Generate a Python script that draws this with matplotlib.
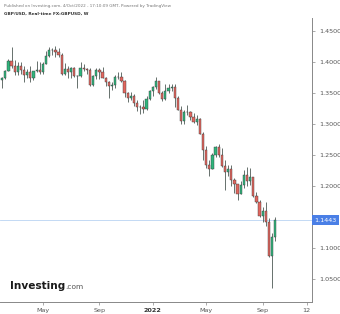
import numpy as np
import matplotlib.pyplot as plt

# GBP/USD weekly candles, first bar = week of 1 Feb 2021, last = week of 3 Oct 2022
opens = [1.3705, 1.3735, 1.3850, 1.4010, 1.3925, 1.3835, 1.3930, 1.3870, 1.3785, 1.3830,
         1.3735, 1.3840, 1.3870, 1.3825, 1.3955, 1.4090, 1.4180, 1.4190, 1.4160, 1.4110,
         1.3800, 1.3880, 1.3825, 1.3890, 1.3760, 1.3760, 1.3890, 1.3880, 1.3865, 1.3620,
         1.3760, 1.3870, 1.3835, 1.3735, 1.3675, 1.3600, 1.3615, 1.3745, 1.3755, 1.3685,
         1.3495, 1.3410, 1.3440, 1.3330, 1.3270, 1.3265, 1.3235, 1.3400, 1.3530, 1.3590,
         1.3680, 1.3485, 1.3395, 1.3530, 1.3565, 1.3590, 1.3410, 1.3225, 1.3035, 1.3180,
         1.3185, 1.3110, 1.3030, 1.3065, 1.2830, 1.2570, 1.2335, 1.2265, 1.2490, 1.2625,
         1.2490, 1.2315, 1.2225, 1.2265, 1.2095, 1.2020, 1.1870, 1.2005, 1.2175, 1.2075,
         1.2140, 1.1830, 1.1735, 1.1510, 1.1590, 1.1410, 1.0855, 1.1165]
highs = [1.3758, 1.3865, 1.4035, 1.4241, 1.4018, 1.3990, 1.4000, 1.3925, 1.3885, 1.3920,
         1.3845, 1.4010, 1.3990, 1.3985, 1.4165, 1.4235, 1.4220, 1.4250, 1.4220, 1.4130,
         1.3975, 1.3930, 1.3910, 1.3910, 1.3785, 1.3985, 1.3960, 1.3890, 1.3890, 1.3780,
         1.3890, 1.3890, 1.3910, 1.3750, 1.3690, 1.3675, 1.3775, 1.3835, 1.3835, 1.3695,
         1.3515, 1.3515, 1.3475, 1.3375, 1.3300, 1.3375, 1.3440, 1.3545, 1.3600, 1.3750,
         1.3685, 1.3530, 1.3630, 1.3645, 1.3645, 1.3645, 1.3440, 1.3280, 1.3215, 1.3300,
         1.3195, 1.3165, 1.3145, 1.3090, 1.2860, 1.2640, 1.2405, 1.2525, 1.2635, 1.2665,
         1.2600, 1.2405, 1.2325, 1.2330, 1.2125, 1.2025, 1.2065, 1.2245, 1.2295, 1.2280,
         1.2145, 1.1900, 1.1760, 1.1650, 1.1740, 1.1480, 1.1235, 1.1495]
lows = [1.3566, 1.3710, 1.3850, 1.3890, 1.3780, 1.3780, 1.3805, 1.3670, 1.3740, 1.3670,
        1.3700, 1.3825, 1.3800, 1.3800, 1.3955, 1.4070, 1.4110, 1.4080, 1.4075, 1.3785,
        1.3785, 1.3735, 1.3730, 1.3755, 1.3570, 1.3755, 1.3840, 1.3800, 1.3600, 1.3600,
        1.3725, 1.3725, 1.3735, 1.3610, 1.3410, 1.3545, 1.3570, 1.3725, 1.3670, 1.3425,
        1.3355, 1.3385, 1.3280, 1.3195, 1.3160, 1.3170, 1.3225, 1.3380, 1.3440, 1.3560,
        1.3480, 1.3360, 1.3380, 1.3490, 1.3530, 1.3270, 1.3210, 1.3000, 1.3000, 1.3140,
        1.3050, 1.3005, 1.2975, 1.2825, 1.2410, 1.2275, 1.2155, 1.2260, 1.2460, 1.2460,
        1.2300, 1.1935, 1.2160, 1.2000, 1.1875, 1.1760, 1.1870, 1.1960, 1.2000, 1.2005,
        1.1820, 1.1715, 1.1500, 1.1405, 1.1350, 1.0840, 1.0350, 1.1110]
closes = [1.3735, 1.3850, 1.4010, 1.3925, 1.3835, 1.3930, 1.3870, 1.3785, 1.3830, 1.3735,
          1.3840, 1.3870, 1.3825, 1.3955, 1.4090, 1.4180, 1.4190, 1.4160, 1.4110, 1.3800,
          1.3880, 1.3825, 1.3890, 1.3760, 1.3760, 1.3890, 1.3880, 1.3865, 1.3620, 1.3760,
          1.3870, 1.3835, 1.3735, 1.3675, 1.3600, 1.3615, 1.3745, 1.3755, 1.3685, 1.3495,
          1.3410, 1.3440, 1.3330, 1.3270, 1.3265, 1.3235, 1.3400, 1.3530, 1.3590, 1.3680,
          1.3485, 1.3395, 1.3530, 1.3565, 1.3590, 1.3410, 1.3225, 1.3035, 1.3180, 1.3185,
          1.3110, 1.3030, 1.3065, 1.2830, 1.2570, 1.2335, 1.2265, 1.2490, 1.2625, 1.2490,
          1.2315, 1.2225, 1.2265, 1.2095, 1.2020, 1.1870, 1.2005, 1.2175, 1.2075, 1.2140,
          1.1830, 1.1735, 1.1510, 1.1590, 1.1410, 1.0855, 1.1165, 1.1443]

last_price = 1.1443
y_ticks = [1.05, 1.10, 1.20, 1.25, 1.30, 1.35, 1.40, 1.45]
# week index of the month labels
x_tick_pos = [13, 31, 48, 65, 83, 97]
x_tick_labels = ["May", "Sep", "2022", "May", "Sep", "12"]

o = np.array(opens)
h = np.array(highs)
l = np.array(lows)
c = np.array(closes)
x = np.arange(len(o))
up = c >= o

green = "#2fb57c"
red = "#e2665e"

fig = plt.figure(figsize=(3.4, 3.14), dpi=100)
ax = fig.add_axes([0.0, 0.0382, 0.9176, 0.9045])

ax.axhline(last_price, color="#b9d3f2", lw=0.6, zorder=1)

ax.vlines(x, l, h, color="#4d5a55", lw=0.6, zorder=2)
colors = np.where(up, green, red)
ax.bar(x, np.maximum(np.abs(c - o), 0.0006), bottom=np.minimum(o, c), width=0.72,
       color=colors, edgecolor="#3a3a3a", linewidth=0.3, zorder=3)

ax.set_xlim(-0.67, 98.7)
ax.set_ylim(1.0121, 1.4702)

ax.yaxis.tick_right()
ax.set_yticks(y_ticks)
ax.set_yticklabels([f"{v:.4f}" for v in y_ticks])
ax.tick_params(axis="y", labelsize=4.6, colors="#888888", labelcolor="#555555",
               length=2.5, width=0.5, pad=2.5)
ax.set_xticks(x_tick_pos)
ax.set_xticklabels(x_tick_labels)
ax.tick_params(axis="x", labelsize=4.6, colors="#888888", labelcolor="#555555",
               length=2.5, width=0.5, pad=1.5)
ax.get_xticklabels()[2].set_fontweight("bold")
ax.get_xticklabels()[2].set_color("#333333")

for s in ["top", "left"]:
    ax.spines[s].set_visible(False)
for s in ["right", "bottom"]:
    ax.spines[s].set_color("#888888")
    ax.spines[s].set_linewidth(0.7)

# current price tag
ax.text(1.008, last_price, f"{last_price:.4f}", transform=ax.get_yaxis_transform(),
        ha="left", va="center", fontsize=4.6, color="white", zorder=5, clip_on=False,
        bbox=dict(boxstyle="square,pad=0.35", fc="#4a7fe6", ec="none"))

fig.text(0.012, 0.988, "Published on Investing.com, 4/Oct/2022 - 17:10:09 GMT, Powered by TradingView",
         fontsize=3.0, color="#777777", va="top")
fig.text(0.012, 0.962, "GBP/USD, Real-time FX:GBPUSD, W", fontsize=3.1, color="#333333",
         fontweight="bold", va="top")

# logo
logo = fig.text(0.028, 0.08, "Investing", fontsize=7.6, fontweight="bold", color="#1a1a1a",
                va="baseline")
fig.canvas.draw()
bb = logo.get_window_extent().transformed(fig.transFigure.inverted())
fig.text(bb.x1 + 0.002, 0.08, ".com", fontsize=5.4, color="#555555", va="baseline")

fig.savefig("out.png", dpi=100)
